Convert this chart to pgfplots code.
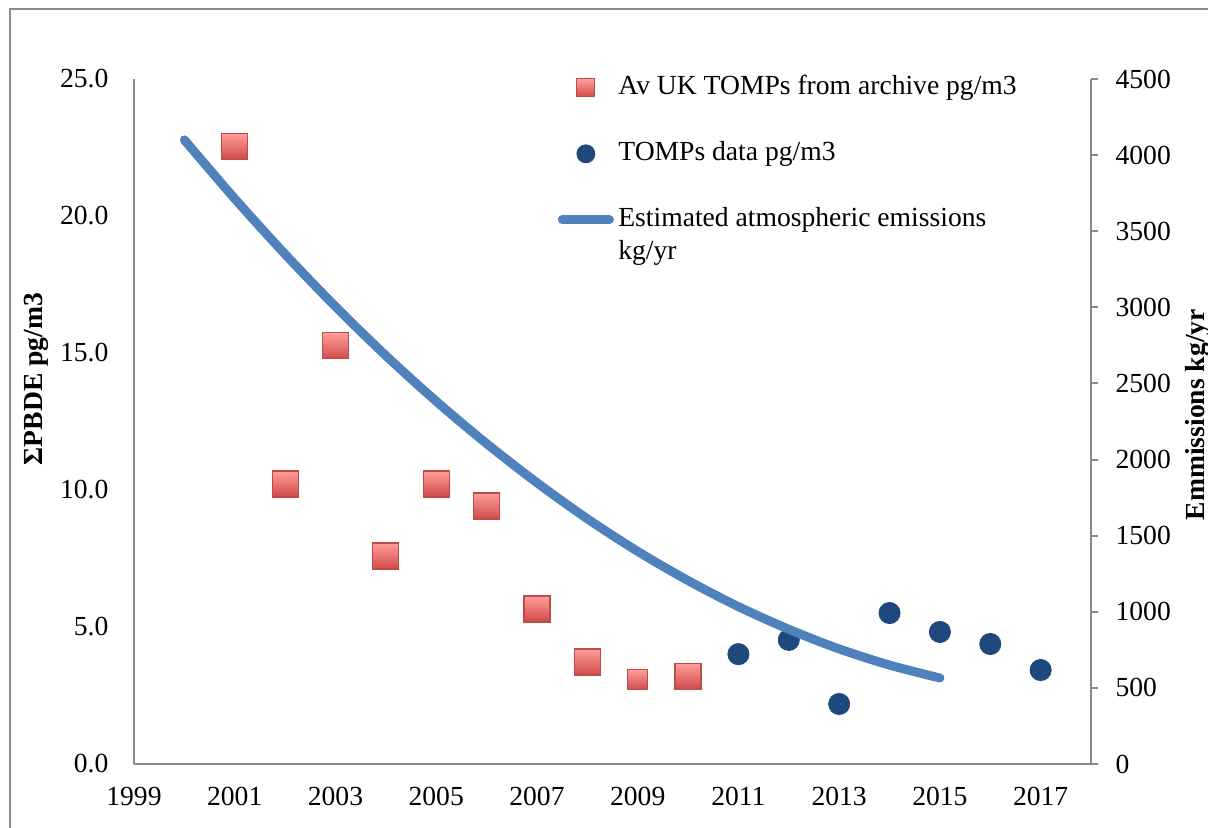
\documentclass[border=0pt]{standalone}
\usepackage{fontspec}
\setmainfont{Liberation Serif}
\usepackage{pgfplots}
\pgfplotsset{compat=1.18}

\definecolor{sqtop}{HTML}{FF9E9C}
\definecolor{sqbot}{HTML}{D04A48}
\definecolor{sqedge}{HTML}{BE4B48}
\definecolor{dotblue}{HTML}{1F497D}
\definecolor{lineblue}{HTML}{4F81BD}
\definecolor{axisgray}{HTML}{898989}
\definecolor{framegray}{HTML}{8C8C8C}

% red square marker with a vertical gradient
\pgfdeclareverticalshading{redsq}{100bp}{color(0bp)=(sqbot); color(25bp)=(sqbot); color(75bp)=(sqtop); color(100bp)=(sqtop)}
\pgfdeclareplotmark{gsquare}{%
  \pgfpathrectangle{\pgfpoint{-\pgfplotmarksize}{-\pgfplotmarksize}}{\pgfpoint{2\pgfplotmarksize}{2\pgfplotmarksize}}%
  \pgfshadepath{redsq}{0}%
  \pgfusepathqstroke}

\pgfplotsset{
  legimg/.style={legend image code/.code={\draw[mark repeat=2,mark phase=2,##1] plot coordinates {(2.25pt,0pt) (14pt,0pt) (25.75pt,0pt)};}},
}

\begin{document}
\fontsize{13.8}{16.5}\selectfont
\begin{tikzpicture}
\useasboundingbox (-67pt,-31.5pt) rectangle (537pt,382pt);
\draw[framegray, line width=1pt] (-62pt,-40pt) -- (-62pt,377.5pt) -- (560pt,377.5pt);

\begin{axis}[
  scale only axis, width=478.5pt, height=342.5pt,
  xmin=1999, xmax=2018, ymin=0, ymax=25,
  axis x line=bottom, axis y line=left,
  axis line style={axisgray, line width=1pt, -},
  xtick={1999,2001,...,2017}, ytick={0,5,...,25},
  major tick length=0pt,
  /pgf/number format/assume math mode=true,
  xticklabel style={/pgf/number format/1000 sep=, yshift=-7pt},
  yticklabel style={/pgf/number format/.cd, fixed, fixed zerofill, precision=1, /tikz/.cd, xshift=-8pt},
  ylabel={\bfseries ΣPBDE pg/m3},
  every axis y label/.style={at={(axis description cs:-0.1024,0.562)}, rotate=90, anchor=center},
  clip=false,
]
\addplot[only marks, mark=gsquare, mark size=6.5pt, mark options={draw=sqedge, line width=0.6pt}] coordinates {
  (2001,22.55) (2002,10.22) (2003,15.26) (2004,7.59) (2005,10.22)
  (2006,9.42) (2007,5.66) (2008,3.72) (2010,3.20)
};
\addplot[only marks, mark=gsquare, mark size=5pt, mark options={draw=sqedge, line width=0.6pt}] coordinates {
  (2009,3.07)
};
\addplot[only marks, mark=*, mark size=5.3pt, color=dotblue] coordinates {
  (2011,4.01) (2012,4.53) (2013,2.19) (2014,5.51) (2015,4.82) (2016,4.38) (2017,3.43)
};
\end{axis}

\begin{axis}[
  scale only axis, width=478.5pt, height=342.5pt,
  xmin=1999, xmax=2018, ymin=0, ymax=4500,
  axis x line=none, axis y line=right,
  axis line style={axisgray, line width=1pt, -},
  ytick={0,500,...,4500},
  tick align=outside, major tick length=3.5pt,
  tick style={axisgray, line width=1pt},
  /pgf/number format/assume math mode=true,
  yticklabel style={/pgf/number format/1000 sep=, xshift=4pt},
  ylabel={\bfseries Emmissions kg/yr},
  every axis y label/.style={at={(axis description cs:1.112,0.51)}, rotate=90, anchor=center},
  legend style={draw=none, fill=none, inner sep=0pt,
    at={(axis description cs:0.4425,1.0118)}, anchor=north west,
    row sep=16.5pt, column sep=0pt,
    nodes={inner xsep=2.25pt, inner ysep=2pt, text height=9.5pt, text depth=3pt}},
  legend cell align=left,
  clip=false,
]
\addlegendimage{only marks, mark=gsquare, mark size=4.5pt, mark options={draw=sqedge, line width=0.6pt}, legimg}
\addlegendentry{Av UK TOMPs from archive pg/m3}
\addlegendimage{only marks, mark=*, mark size=4.5pt, color=dotblue, legimg}
\addlegendentry{TOMPs data pg/m3}
\addplot[lineblue, line width=4.5pt, smooth, line cap=round, legimg] coordinates {
  (2000,4100) (2001,3714) (2002,3349) (2003,3005) (2004,2683) (2005,2383)
  (2006,2105) (2007,1848) (2008,1611) (2009,1397) (2010,1205) (2011,1034)
  (2012,885) (2013,756) (2014,650) (2015,565)
};
\addlegendentry{\parbox[t]{230pt}{Estimated atmospheric emissions\\kg/yr}}
\end{axis}
\end{tikzpicture}
\end{document}
